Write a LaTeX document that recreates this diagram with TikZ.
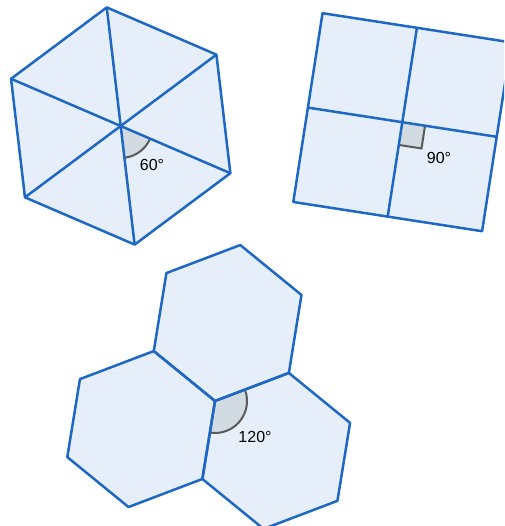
\documentclass[tikz,border=0pt]{standalone}
\usepackage{fontspec}
\setmainfont{Liberation Sans}
\usepackage{tikz}
\usetikzlibrary{positioning}
\definecolor{edgeblue}{RGB}{30,104,196}
\definecolor{faceblue}{RGB}{230,239,249}
\definecolor{markfill}{RGB}{210,218,226}
\definecolor{markline}{RGB}{90,90,90}

\begin{document}
\begin{tikzpicture}[
    x=1pt, y=-1pt,
    face/.style={fill=faceblue},
    edge/.style={draw=edgeblue, line width=2.5pt, line join=round},
    anglefill/.style={fill=markfill},
    anglearc/.style={draw=markline, line width=2pt},
    lbl/.style={font=\fontsize{16}{19}\selectfont, inner sep=0pt}
]
\clip (0,0) rectangle (504,526);

\coordinate (hexA) at (120.7,126);
\foreach \a [count=\i] in {-96.7,-36.7,23.3,83.3,143.3,203.3}
    \path (hexA) ++(\a:119.4) coordinate (hexA\i);
\fill[face] (hexA1) -- (hexA2) -- (hexA3) -- (hexA4) -- (hexA5) -- (hexA6) -- cycle;
\fill[anglefill] (hexA) -- ++(23.3:32) arc[start angle=23.3, end angle=83.3, radius=32] -- cycle;
\draw[anglearc] (hexA) ++(23.3:32) arc[start angle=23.3, end angle=83.3, radius=32];
\draw[edge] (hexA1) -- (hexA2) -- (hexA3) -- (hexA4) -- (hexA5) -- (hexA6) -- cycle;
\foreach \i/\j in {1/4, 2/5, 3/6}
    \draw[edge] (hexA\i) -- (hexA\j);
\node[lbl] (lblA) at (152,165) {60°};

\coordinate (sq) at (402.3,122.2);
\foreach \a [count=\i] in {233.8,323.8,53.8,143.8}
    \path (sq) ++(\a:135.1) coordinate (sq\i);
\foreach \a [count=\i] in {8.8,98.8,188.8,278.8}
    \path (sq) ++(\a:95.5) coordinate (sqm\i);
\path (sq) ++(8.8:23) coordinate (ra1) ++(98.8:23) coordinate (ra2);
\path (sq) ++(98.8:23) coordinate (ra3);
\fill[face] (sq1) -- (sq2) -- (sq3) -- (sq4) -- cycle;
\fill[anglefill] (sq) -- (ra1) -- (ra2) -- (ra3) -- cycle;
\draw[anglearc] (ra1) -- (ra2) -- (ra3);
\draw[edge] (sq1) -- (sq2) -- (sq3) -- (sq4) -- cycle;
\draw[edge] (sqm1) -- (sqm3);
\draw[edge] (sqm2) -- (sqm4);
\node[lbl] (lblB) at (439,158) {90°};

\coordinate (tri) at (215,401);
\foreach \n/\a in {tileT/-80.8, tileL/159.2, tileR/39.2} {
    \path (tri) ++(\a:79) coordinate (\n);
    \foreach \b [count=\i] in {99.2,159.2,219.2,279.2,339.2,39.2}
        \path (\n) ++(\b:79) coordinate (\n\i);
}
\foreach \n in {tileT, tileL, tileR}
    \fill[face] (\n1) -- (\n2) -- (\n3) -- (\n4) -- (\n5) -- (\n6) -- cycle;
\fill[anglefill] (tri) -- ++(-20.8:32) arc[start angle=-20.8, end angle=99.2, radius=32] -- cycle;
\draw[anglearc] (tri) ++(-20.8:32) arc[start angle=-20.8, end angle=99.2, radius=32];
\foreach \n in {tileT, tileL, tileR}
    \draw[edge] (\n1) -- (\n2) -- (\n3) -- (\n4) -- (\n5) -- (\n6) -- cycle;
\node[lbl] (lblC) at (255,436.5) {120°};
\end{tikzpicture}
\end{document}
